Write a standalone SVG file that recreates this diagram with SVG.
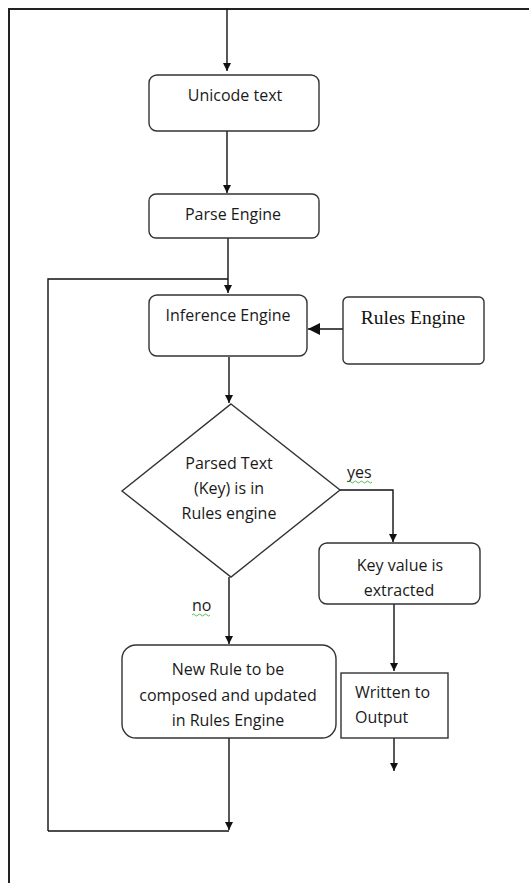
<svg xmlns="http://www.w3.org/2000/svg" width="529" height="883" viewBox="0 0 529 883">
<defs>
<marker id="ah" markerWidth="8" markerHeight="8" refX="8" refY="4" orient="auto" markerUnits="userSpaceOnUse">
<path d="M0,0 L8,4 L0,8 Z" fill="#111"/>
</marker>
<marker id="ahb" markerWidth="12" markerHeight="12" refX="12" refY="6" orient="auto" markerUnits="userSpaceOnUse">
<path d="M0,0 L12,6 L0,12 Z" fill="#111"/>
</marker>
<style>
.box{fill:#fff;stroke:#333;stroke-width:1.4}
.ln{fill:none;stroke:#111;stroke-width:1.4}
.t{font-family:"Open Sans","Liberation Sans",sans-serif;font-size:16px;fill:#1a1a1a;text-anchor:middle}
.tl{font-family:"Open Sans","Liberation Sans",sans-serif;font-size:16px;fill:#1a1a1a}
.ts{font-family:"Liberation Serif",serif;font-size:19.5px;fill:#111;text-anchor:middle}
.sq{fill:none;stroke:#3a3;stroke-width:0.8}
</style>
</defs>
<rect width="529" height="883" fill="#fff"/>
<g id="frame">
<path d="M9,883 L9,9 L529,9" fill="none" stroke="#222" stroke-width="2"/>
</g>
<g id="connectors">
<path class="ln" d="M227,9 L227,71" marker-end="url(#ah)"/>
<path class="ln" d="M227,131 L227,193" marker-end="url(#ah)"/>
<path class="ln" d="M228,238 L228,293" marker-end="url(#ah)"/>
<path class="ln" d="M48,831 L48,279 L228,279"/>
<path class="ln" d="M343,329 L308,329" stroke-width="3" marker-end="url(#ahb)"/>
<path class="ln" d="M229,357 L229,403" marker-end="url(#ah)"/>
<path class="ln" d="M340,490 L393,490 L393,542" marker-end="url(#ah)"/>
<path class="ln" d="M229,577 L229,644" marker-end="url(#ah)"/>
<path class="ln" d="M394,604 L394,671" marker-end="url(#ah)"/>
<path class="ln" d="M394,738 L394,771" marker-end="url(#ah)"/>
<path class="ln" d="M229,738 L229,830" marker-end="url(#ah)"/>
<path class="ln" d="M48,831 L229,831"/>
<text class="tl" x="347" y="478">yes</text>
<path class="sq" d="M348,482 q1.5,-2 3,0 t3,0 t3,0 t3,0 t3,0 t3,0 t3,0 t3,0"/>
<text class="tl" x="192" y="611">no</text>
<path class="sq" d="M192,615 q1.5,-2 3,0 t3,0 t3,0 t3,0 t3,0 t3,0"/>
</g>
<g id="unicode">
<rect class="box" x="149" y="75" width="170" height="56" rx="8"/>
<text class="t" x="235" y="101">Unicode text</text>
</g>
<g id="parse">
<rect class="box" x="149" y="194" width="170" height="44" rx="7"/>
<text class="t" x="233" y="220">Parse Engine</text>
</g>
<g id="inference">
<rect class="box" x="149" y="295" width="158" height="61" rx="8"/>
<text class="t" x="228" y="321">Inference Engine</text>
</g>
<g id="rules">
<rect class="box" x="343" y="297" width="141" height="67" rx="5"/>
<text class="ts" x="413" y="324">Rules Engine</text>
</g>
<g id="decision">
<polygon class="box" points="231,404 340,490 231,577 122,491"/>
<text class="t" x="229" y="469">Parsed Text</text>
<text class="t" x="229" y="494">(Key) is in</text>
<text class="t" x="229" y="519">Rules engine</text>
</g>
<g id="keyvalue">
<rect class="box" x="319" y="543" width="161" height="61" rx="8"/>
<text class="t" x="400" y="571">Key value is</text>
<text class="t" x="399" y="596">extracted</text>
</g>
<g id="written">
<rect class="box" x="341" y="673" width="107" height="65"/>
<text class="tl" x="355" y="698">Written to</text>
<text class="tl" x="355" y="723">Output</text>
</g>
<g id="newrule">
<rect class="box" x="122" y="645" width="214" height="93" rx="14"/>
<text class="t" x="228" y="675">New Rule to be</text>
<text class="t" x="228" y="701">composed and updated</text>
<text class="t" x="228" y="726">in Rules Engine</text>
</g>
</svg>
